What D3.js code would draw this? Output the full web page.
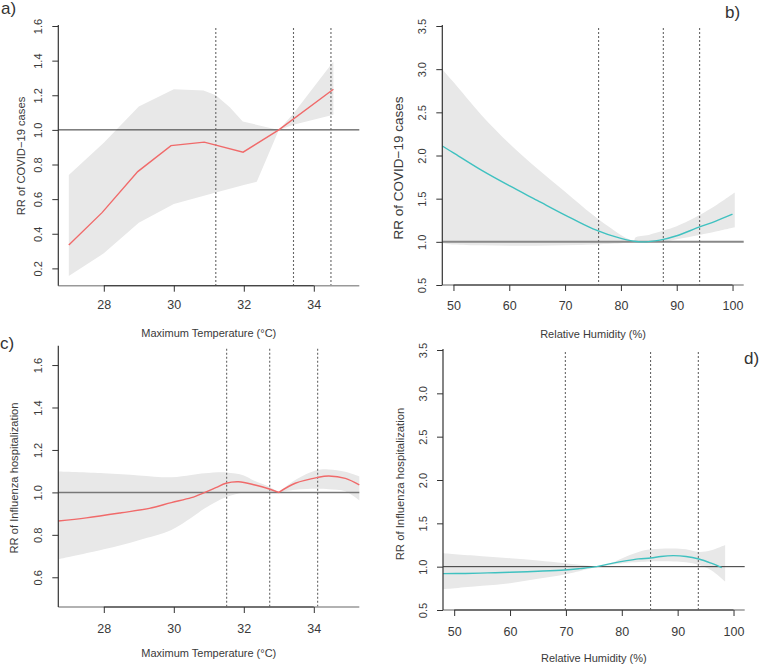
<!DOCTYPE html>
<html><head><meta charset="utf-8">
<script src="https://cdn.jsdelivr.net/npm/d3@7"></script>
<style>
html,body{margin:0;padding:0;background:#fff;}
svg{display:block;font-family:"Liberation Sans",Arial,Helvetica,sans-serif;}
</style></head>
<body>
<svg id="chart" width="764" height="665"></svg>
<script>
// ---------------- DATA ----------------
const panelLabels = ["a)", "b)", "c)", "d)"];
const xTitles = ["Maximum Temperature (°C)", "Relative Humidity (%)", "Maximum Temperature (°C)", "Relative Humidity (%)"];
const yTitles = ["RR of COVID\u221219 cases", "RR of COVID\u221219 cases", "RR of Influenza hospitalization", "RR of Influenza hospitalization"];

const tempTicks = [28, 30, 32, 34];
const rhTicks = [50, 60, 70, 80, 90, 100];
const rrTicksA = [0.2, 0.4, 0.6, 0.8, 1.0, 1.2, 1.4, 1.6];
const rrTicksB = [0.5, 1.0, 1.5, 2.0, 2.5, 3.0, 3.5];
const rrTicksC = [0.6, 0.8, 1.0, 1.2, 1.4, 1.6];
const rrTicksD = [0.5, 1.0, 1.5, 2.0, 2.5, 3.0, 3.5];

// a) COVID-19 cases vs maximum temperature
const covidTempX  = [27, 27.95, 28.97, 29.92, 30.87, 31.98, 33.0, 34.56];
const covidTempRR = [0.335, 0.522, 0.759, 0.909, 0.929, 0.871, 1.0, 1.235];
const covidTempHiX = [27, 28, 29, 30, 30.85, 31.2, 31.6, 31.97, 33.0, 33.42, 34.56];
const covidTempHi  = [0.74, 0.925, 1.135, 1.235, 1.227, 1.20, 1.13, 1.048, 1.0, 1.095, 1.395];
const covidTempLoX = [27, 28, 29, 30, 31.2, 32, 32.37, 33.0, 33.42, 34.56];
const covidTempLo  = [0.156, 0.287, 0.464, 0.572, 0.638, 0.682, 0.70, 1.0, 1.029, 1.087];
const covidTempCuts = [31.2, 33.42, 34.49];

// b) COVID-19 cases vs relative humidity
const covidRhX  = [48, 50, 55, 60, 65, 70, 75, 80, 83.5, 87, 90, 94, 97, 100];
const covidRhRR = [2.11, 2.03, 1.83, 1.65, 1.48, 1.31, 1.15, 1.04, 1.0, 1.02, 1.07, 1.17, 1.24, 1.32];
const covidRhBandX = [48, 50, 55, 60, 65, 70, 75, 80, 82.4, 82.6, 85, 87.6, 90, 94.1, 97, 100.4];
const covidRhHi    = [3.0, 2.85, 2.47, 2.14, 1.85, 1.58, 1.31, 1.08, 1.0, 1.05, 1.08, 1.13, 1.18, 1.31, 1.42, 1.57];
const covidRhLo    = [0.985, 0.97, 0.96, 0.955, 0.955, 0.96, 0.97, 0.985, 0.995, 0.995, 0.99, 1.0, 1.03, 1.08, 1.12, 1.17];
const covidRhCuts = [76.0, 87.6, 94.1];

// c) Influenza hospitalization vs maximum temperature
const fluTempX  = [26.7, 27.5, 28.5, 29.3, 29.93, 30.5, 30.89, 31.2, 31.49, 31.85, 32.32, 32.73, 33.0, 33.47, 34.12, 34.43, 34.9, 35.3];
const fluTempRR = [0.865, 0.88, 0.904, 0.925, 0.952, 0.975, 1.0, 1.022, 1.043, 1.05, 1.035, 1.016, 1.0, 1.043, 1.071, 1.077, 1.066, 1.035];
const fluTempBandX = [26.7, 28, 29, 29.93, 30.5, 30.89, 31.5, 32.0, 32.3, 32.73, 33.0, 33.47, 34.1, 34.43, 34.9, 35.3];
const fluTempHi    = [1.098, 1.09, 1.08, 1.071, 1.082, 1.09, 1.094, 1.08, 1.055, 1.027, 1.0, 1.058, 1.105, 1.108, 1.097, 1.075];
const fluTempLo    = [0.685, 0.732, 0.775, 0.823, 0.88, 0.925, 0.978, 1.0, 1.0, 1.0, 1.0, 1.012, 1.017, 1.015, 1.005, 0.962];
const fluTempCuts = [31.51, 32.74, 34.11];

// d) Influenza hospitalization vs relative humidity
const fluRhX  = [48, 52, 56, 60, 65, 69.8, 72.5, 75.5, 78, 80.9, 83, 85.2, 87, 89.2, 91.5, 93.8, 96, 97.9];
const fluRhRR = [0.92, 0.922, 0.928, 0.935, 0.947, 0.962, 0.978, 1.0, 1.035, 1.07, 1.09, 1.10, 1.118, 1.127, 1.118, 1.088, 1.04, 0.99];
const fluRhBandX = [48, 55, 60, 65, 69.8, 75.5, 78, 80.9, 83, 85.2, 89.2, 91.5, 93.8, 96, 98.5];
const fluRhHi    = [1.154, 1.12, 1.097, 1.07, 1.038, 1.0, 1.04, 1.12, 1.17, 1.2, 1.21, 1.2, 1.17, 1.19, 1.25];
const fluRhLo    = [0.74, 0.78, 0.81, 0.86, 0.91, 1.0, 1.02, 1.045, 1.055, 1.06, 1.06, 1.05, 1.02, 0.96, 0.83];
const fluRhCuts = [69.9, 85.15, 93.7];

// ---------------- LAYOUT / PANELS ----------------
const zip = (xs, ys) => xs.map((x, i) => [x, ys[i]]);
const RED = "#f06a6a", CYAN = "#3fc1c0", BAND = "#e8e8e8";

const panels = [
  { label: panelLabels[0], lab: [1, 14], xTitle: xTitles[0], yTitle: yTitles[0],
    xDom: [26.7, 35.3], xR: [58.3, 359.3], yDom: [0.1, 1.6], yR: [285.7, 26],
    xTicks: tempTicks, yTicks: rrTicksA, color: RED, curve: d3.curveLinear, bandCurve: d3.curveLinear,
    line: zip(covidTempX, covidTempRR), hi: zip(covidTempHiX, covidTempHi), lo: zip(covidTempLoX, covidTempLo),
    cuts: covidTempCuts, breaks: [], bandBreaks: [], ref: { c: "#333", w: 1 },
    xLabY: 309.5, xTitleY: 337, yTitleX: 25, yTitleY: 156, yTickX: -16, ylabSize: 11.2 },
  { label: panelLabels[1], lab: [725, 18], xTitle: xTitles[1], yTitle: yTitles[1],
    xDom: [48, 102], xR: [442.3, 743.7], yDom: [0.5, 3.5], yR: [285, 26],
    xTicks: rhTicks, yTicks: rrTicksB, color: CYAN, curve: d3.curveCatmullRom, bandCurve: d3.curveCatmullRom,
    line: zip(covidRhX, covidRhRR), hi: zip(covidRhBandX, covidRhHi), lo: zip(covidRhBandX, covidRhLo),
    cuts: covidRhCuts, breaks: [], bandBreaks: [82.4], ref: { c: "#888", w: 2 },
    xLabY: 309.5, xTitleY: 338, yTitleX: 403, yTitleY: 168, yTickX: -16, ylabSize: 13.5 },
  { label: panelLabels[2], lab: [0, 349], xTitle: xTitles[2], yTitle: yTitles[2],
    xDom: [26.7, 35.3], xR: [58.3, 359.3], yDom: [0.46, 1.686], yR: [607, 346.8],
    xTicks: tempTicks, yTicks: rrTicksC, color: RED, curve: d3.curveCatmullRom, bandCurve: d3.curveCatmullRom,
    line: zip(fluTempX, fluTempRR), hi: zip(fluTempBandX, fluTempHi), lo: zip(fluTempBandX, fluTempLo),
    cuts: fluTempCuts, breaks: [33.0], bandBreaks: [33.0], ref: { c: "#777", w: 1.5 },
    xLabY: 632.5, xTitleY: 657, yTitleX: 17.5, yTitleY: 478, yTickX: -16, ylabSize: 11.2 },
  { label: panelLabels[3], lab: [744, 364], xTitle: xTitles[3], yTitle: yTitles[3],
    xDom: [48, 102], xR: [443, 744.7], yDom: [0.5, 3.5], yR: [610, 350],
    xTicks: rhTicks, yTicks: rrTicksD, color: CYAN, curve: d3.curveCatmullRom, bandCurve: d3.curveCatmullRom,
    line: zip(fluRhX, fluRhRR), hi: zip(fluRhBandX, fluRhHi), lo: zip(fluRhBandX, fluRhLo),
    cuts: fluRhCuts, breaks: [], bandBreaks: [75.5], ref: { c: "#333", w: 1 },
    xLabY: 636, xTitleY: 662, yTitleX: 404, yTitleY: 484, yTickX: -16, ylabSize: 11.3 }
];

const svg = d3.select("#chart");
const TXT = "#3a3a3a";
const FONT = "Liberation Sans, Arial, sans-serif";

function splitAt(pts, breaks) {
  const segs = [[]];
  pts.forEach((p, i) => {
    segs[segs.length - 1].push(p);
    if (breaks.includes(p[0]) && i > 0 && i < pts.length - 1) segs.push([p]);
  });
  return segs;
}

panels.forEach(P => {
  const sx = d3.scaleLinear().domain(P.xDom).range(P.xR);
  const sy = d3.scaleLinear().domain(P.yDom).range(P.yR);
  const g = svg.append("g");

  const mk = curve => d3.line().x(d => sx(d[0])).y(d => sy(d[1])).curve(curve);
  const pathFor = (pts, curve, breaks) => splitAt(pts, breaks)
      .map((s, i) => { const p = mk(curve)(s); return i ? p.replace(/^M/, "L") : p; }).join("");

  // confidence band
  const loRev = P.lo.slice().reverse();
  const bandD = pathFor(P.hi, P.bandCurve, P.bandBreaks) + pathFor(loRev, P.bandCurve, P.bandBreaks).replace(/^M/, "L") + "Z";
  g.append("path").attr("d", bandD).attr("fill", BAND).attr("stroke", "none");

  // reference line RR = 1
  g.append("line")
    .attr("x1", P.xR[0]).attr("x2", P.xR[1])
    .attr("y1", sy(1)).attr("y2", sy(1))
    .attr("stroke", P.ref.c).attr("stroke-width", P.ref.w);

  // dotted percentile cut lines
  g.selectAll("line.cut").data(P.cuts).join("line").attr("class", "cut")
    .attr("x1", d => sx(d)).attr("x2", d => sx(d))
    .attr("y1", P.yR[1] + 2).attr("y2", P.yR[0])
    .attr("stroke", "#666").attr("stroke-width", 1.1).attr("stroke-dasharray", "2,2");

  // curve
  g.append("path").attr("d", pathFor(P.line, P.curve, P.breaks))
    .attr("fill", "none").attr("stroke", P.color).attr("stroke-width", 1.4);

  // frame: bottom (light) and left (dark)
  g.append("line").attr("x1", P.xR[0]).attr("x2", P.xR[1]).attr("y1", P.yR[0]).attr("y2", P.yR[0])
    .attr("stroke", "#999").attr("stroke-width", 1.5);
  g.append("line").attr("x1", P.xR[0]).attr("x2", P.xR[0]).attr("y1", P.yR[1] - 1).attr("y2", P.yR[0])
    .attr("stroke", "#333").attr("stroke-width", 1.2);

  // x axis
  const xa = g.append("g").attr("transform", `translate(0,${P.yR[0]})`)
    .call(d3.axisBottom(sx).tickValues(P.xTicks).tickSize(6).tickSizeOuter(0).tickFormat(d3.format("d")));
  xa.select(".domain").remove();
  xa.append("line").attr("x1", sx(P.xTicks[0])).attr("x2", sx(P.xTicks[P.xTicks.length - 1]))
    .attr("stroke", "#333").attr("stroke-width", 1);
  xa.selectAll(".tick line").attr("stroke", "#333");
  xa.selectAll(".tick text").attr("y", P.xLabY - P.yR[0]).attr("dy", 0)
    .attr("fill", TXT).style("font-size", "12.5px").style("font-family", FONT);

  // y axis
  const ya = g.append("g").attr("transform", `translate(${P.xR[0]},0)`)
    .call(d3.axisLeft(sy).tickValues(P.yTicks).tickSize(6).tickSizeOuter(0).tickFormat(d3.format(".1f")));
  ya.select(".domain").remove();
  ya.selectAll(".tick line").attr("stroke", "#333");
  ya.selectAll(".tick text").attr("transform", "rotate(-90)").attr("x", 0).attr("y", P.yTickX).attr("dy", 0)
    .attr("text-anchor", "middle").attr("fill", TXT)
    .style("font-size", "11px").style("font-family", FONT);

  // titles
  g.append("text").attr("x", (P.xR[0] + P.xR[1]) / 2).attr("y", P.xTitleY)
    .attr("text-anchor", "middle").attr("fill", TXT).style("font-size", "11px").text(P.xTitle);
  g.append("text").attr("transform", `translate(${P.yTitleX},${P.yTitleY}) rotate(-90)`)
    .attr("text-anchor", "middle").attr("fill", TXT).style("font-size", P.ylabSize + "px").text(P.yTitle);
  g.append("text").attr("x", P.lab[0]).attr("y", P.lab[1])
    .attr("fill", "#333").style("font-size", "17px").text(P.label);
});
</script>
</body></html>
